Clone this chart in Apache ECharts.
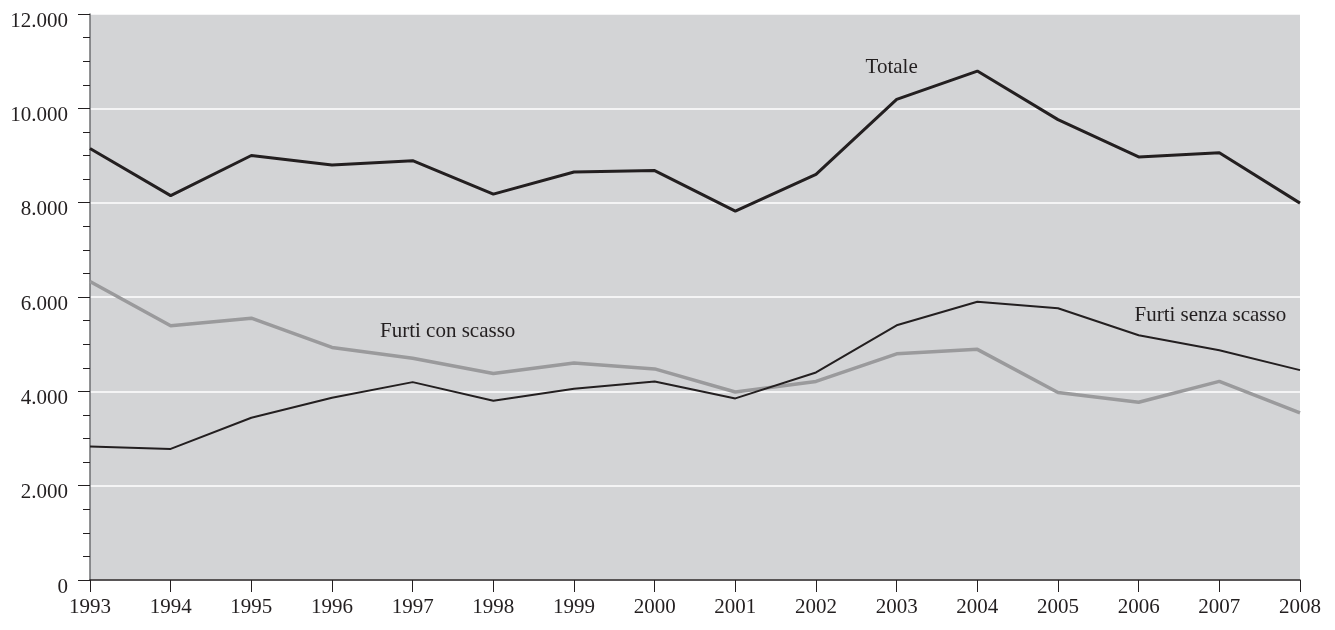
<!DOCTYPE html>
<html>
<head>
<meta charset="utf-8">
<script src="https://cdn.jsdelivr.net/npm/echarts@6/dist/echarts.min.js"></script>
<style>
  html, body { margin: 0; padding: 0; background: #fff; }
  #chart { width: 1335px; height: 630px; }
</style>
</head>
<body>
<div id="chart"></div>
<script>
// anni
const years = ['1993', '1994', '1995', '1996', '1997', '1998', '1999', '2000',
  '2001', '2002', '2003', '2004', '2005', '2006', '2007', '2008']
// serie
const totale = [9150, 8150, 9000, 8800, 8890, 8180, 8650, 8680, 7820, 8600, 10190, 10790, 9760, 8970, 9060, 7990]
const furtiSenzaScasso = [2830, 2780, 3440, 3865, 4195, 3800, 4055, 4210, 3850, 4400, 5400, 5900, 5760, 5190, 4870, 4450]
const furtiConScasso = [6330, 5390, 5550, 4930, 4700, 4380, 4600, 4475, 3985, 4210, 4795, 4890, 3975, 3770, 4210, 3545]

const serif = 'Liberation Serif'
const ink = '#231f20'

function label(text, coord, offset) {
  return {
    silent: true,
    symbol: 'circle',
    symbolSize: 0,
    data: [{ coord: coord }],
    label: {
      show: true,
      position: 'inside',
      formatter: text,
      offset: offset,
      fontFamily: serif,
      fontSize: 21,
      color: ink
    }
  }
}

const chart = echarts.init(document.getElementById('chart'))
chart.setOption({
  animation: false,
  grid: {
    left: 90,
    right: 35,
    top: 14,
    bottom: 50,
    show: true,
    backgroundColor: '#d3d4d6',
    borderWidth: 0
  },
  xAxis: {
    type: 'category',
    data: years,
    boundaryGap: false,
    axisLine: { lineStyle: { color: ink, width: 1.5 } },
    axisTick: { length: 12, lineStyle: { color: ink, width: 1 } },
    axisLabel: { margin: 17, fontFamily: serif, fontSize: 21, color: ink },
    splitLine: { show: false }
  },
  yAxis: {
    type: 'value',
    min: 0,
    max: 12000,
    interval: 2000,
    axisLine: { show: true, lineStyle: { color: '#6d6e71', width: 1.5 } },
    axisTick: { show: true, length: 12, lineStyle: { color: ink, width: 1 } },
    minorTick: { show: true, splitNumber: 4, length: 7, lineStyle: { color: ink, width: 1 } },
    axisLabel: {
      margin: 22,
      fontFamily: serif,
      fontSize: 21,
      color: ink,
      verticalAlign: 'top',
      lineHeight: 14,
      formatter: v => String(v).replace(/\B(?=(\d{3})+(?!\d))/g, '.')
    },
    splitLine: { show: true, lineStyle: { color: '#ffffff', width: 1.5 } }
  },
  series: [
    {
      name: 'Furti con scasso',
      type: 'line',
      data: furtiConScasso,
      symbol: 'none',
      lineStyle: { color: '#9a9a9c', width: 3.5 },
      emphasis: { disabled: true },
      markPoint: label('Furti con scasso', ['1997', 5260], [35, 0])
    },
    {
      name: 'Furti senza scasso',
      type: 'line',
      data: furtiSenzaScasso,
      symbol: 'none',
      lineStyle: { color: ink, width: 2 },
      emphasis: { disabled: true },
      markPoint: label('Furti senza scasso', ['2007', 5600], [-9, 0])
    },
    {
      name: 'Totale',
      type: 'line',
      data: totale,
      symbol: 'none',
      lineStyle: { color: ink, width: 3 },
      emphasis: { disabled: true },
      markPoint: label('Totale', ['2003', 10870], [-5, 0])
    }
  ]
})
</script>
</body>
</html>
